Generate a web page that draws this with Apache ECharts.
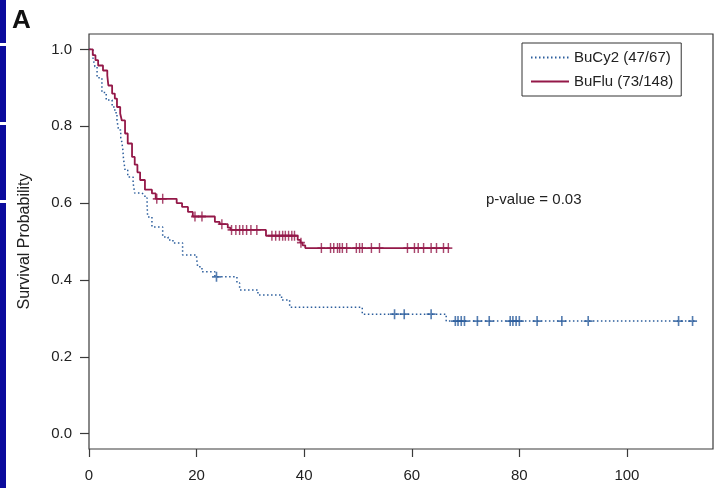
<!DOCTYPE html>
<html>
<head>
<meta charset="utf-8">
<script src="https://cdn.jsdelivr.net/npm/echarts@6/dist/echarts.min.js"></script>
<style>
html,body{margin:0;padding:0;background:#fff;}
#chart{width:725px;height:488px;}
</style>
</head>
<body>
<div id="chart"></div>
<script>
// ---- data ----
const seriesNames = ['BuCy2 (47/67)', 'BuFlu (73/148)'];
const xTickValues = [0, 20, 40, 60, 80, 100];
const yTickValues = [0, 0.2, 0.4, 0.6, 0.8, 1.0];

const blueEventTimes = [0.74,1.1,1.5,2.4,3.2,4.3,4.8,5.2,5.5,5.9,6.1,6.3,6.4,6.7,7.2,8.2,8.5,9.8,10.4,10.8,10.9,11.7,13.7,14.7,15.6,17.4,20.0,20.2,21.0,23.4,27.5,28.0,31.4,35.8,37.3,50.8,66.4];
const blueSurvival   = [0.978,0.955,0.926,0.888,0.868,0.85,0.835,0.816,0.79,0.77,0.759,0.738,0.717,0.686,0.668,0.652,0.626,0.621,0.613,0.595,0.564,0.538,0.512,0.504,0.496,0.465,0.457,0.434,0.421,0.408,0.392,0.374,0.361,0.348,0.329,0.311,0.293];
const blueEndTime = 113;
const blueCensorTimes = [23.7,56.8,58.6,63.6,68.1,68.6,69.2,69.8,72.2,74.4,78.3,78.8,79.4,80.0,83.3,87.9,92.8,109.6,112.2];

const redEventTimes = [0.7,1.2,1.7,2.6,3.4,3.6,4.3,4.8,5.2,5.8,6.1,6.7,7.2,8.0,8.5,9.0,9.5,10.4,11.7,12.4,16.3,17.3,18.4,19.3,23.4,24.3,25.8,26.3,32.9,38.8,39.3,39.7,40.2];
const redSurvival   = [0.985,0.972,0.958,0.945,0.932,0.906,0.885,0.872,0.85,0.833,0.815,0.781,0.755,0.72,0.70,0.68,0.66,0.635,0.625,0.611,0.60,0.59,0.577,0.565,0.551,0.545,0.536,0.53,0.515,0.504,0.497,0.49,0.483];
const redEndTime = 67;
const redCensorTimes = [12.6,13.7,19.7,21.0,24.7,26.5,27.3,28.0,28.6,29.3,30.1,31.2,34.0,34.7,35.4,36.0,36.5,37.1,37.7,38.2,39.4,43.2,44.9,45.5,46.2,46.6,47.1,47.9,49.7,50.3,50.8,52.5,54.0,59.2,60.5,61.2,62.2,63.6,64.6,65.9,66.8];

// ---- helpers ----
function stepData(times, surv, endT) {
  const d = [[0, 1]];
  times.forEach((t, i) => d.push([t, surv[i]]));
  d.push([endT, surv[surv.length - 1]]);
  return d;
}
function survAt(times, surv, t) {
  let s = 1;
  for (let i = 0; i < times.length; i++) { if (times[i] <= t) s = surv[i]; }
  return s;
}
function censorData(ct, times, surv) {
  return ct.map(t => [t, survAt(times, surv, t)]);
}

const BLUE = '#2b5d9c';
const RED = '#941848';
const FONT = 'Liberation Sans, Arial, Helvetica, sans-serif';
const PLUS = 'path://M4.1,0H5.9V4.1H10V5.9H5.9V10H4.1V5.9H0V4.1H4.1Z';

const chart = echarts.init(document.getElementById('chart'), null, {renderer: 'canvas'});
chart.setOption({
  animation: false,
  backgroundColor: '#ffffff',
  textStyle: {fontFamily: FONT},
  grid: {left: 89, right: 12, top: 34, bottom: 39, show: true, borderColor: '#3a3a3a', borderWidth: 1.2, backgroundColor: 'transparent'},
  xAxis: {
    type: 'value', min: 0, max: 116,
    axisLine: {show: false, onZero: false},
    splitLine: {show: false},
    axisTick: {show: true, inside: false, length: 8, lineStyle: {color: '#3a3a3a', width: 1.2}, customValues: xTickValues},
    axisLabel: {show: true, margin: 19, fontSize: 15, color: '#222', fontFamily: FONT, customValues: xTickValues, formatter: v => String(v)}
  },
  yAxis: {
    type: 'value', min: -0.04, max: 1.04,
    name: 'Survival Probability', nameLocation: 'middle', nameGap: 56,
    nameTextStyle: {fontSize: 16, color: '#222', fontFamily: FONT},
    axisLine: {show: false, onZero: false},
    splitLine: {show: false},
    axisTick: {show: true, inside: false, length: 9, lineStyle: {color: '#3a3a3a', width: 1.2}, customValues: yTickValues},
    axisLabel: {show: true, margin: 17, fontSize: 15, color: '#222', fontFamily: FONT, customValues: yTickValues, formatter: v => v.toFixed(1)}
  },
  legend: {
    data: seriesNames,
    orient: 'vertical', left: 522, top: 43,
    padding: [7, 8, 7, 8], itemGap: 9,
    itemWidth: 38, itemHeight: 14,
    borderColor: '#333', borderWidth: 1, borderRadius: 0,
    backgroundColor: '#fff',
    itemStyle: {opacity: 0},
    textStyle: {fontSize: 15, color: '#222', fontFamily: FONT}
  },
  graphic: [
    {type: 'rect', left: 0, top: 0, shape: {width: 6, height: 43}, style: {fill: '#0b0b9c'}},
    {type: 'rect', left: 0, top: 46, shape: {width: 6, height: 76}, style: {fill: '#0b0b9c'}},
    {type: 'rect', left: 0, top: 125, shape: {width: 6, height: 75}, style: {fill: '#0b0b9c'}},
    {type: 'rect', left: 0, top: 203, shape: {width: 6, height: 285}, style: {fill: '#0b0b9c'}},
    {type: 'text', left: 12, top: 8, style: {text: 'A', font: 'bold 26px ' + FONT, fill: '#111'}},
    {type: 'text', left: 486, top: 192, style: {text: 'p-value = 0.03', font: '15px ' + FONT, fill: '#222'}}
  ],
  series: [
    {
      name: seriesNames[0], type: 'line', step: 'end', symbol: 'none',
      data: stepData(blueEventTimes, blueSurvival, blueEndTime),
      lineStyle: {color: BLUE, width: 1.5, type: [1.5, 2.5]},
      itemStyle: {color: BLUE}, z: 3
    },
    {
      name: seriesNames[1], type: 'line', step: 'end', symbol: 'none',
      data: stepData(redEventTimes, redSurvival, redEndTime),
      lineStyle: {color: RED, width: 1.8},
      itemStyle: {color: RED}, z: 4
    },
    {
      name: 'BuCy2 censored', type: 'scatter', symbol: PLUS, symbolSize: [9, 10],
      data: censorData(blueCensorTimes, blueEventTimes, blueSurvival),
      itemStyle: {color: BLUE}, z: 5
    },
    {
      name: 'BuFlu censored', type: 'scatter', symbol: PLUS, symbolSize: [8, 10],
      data: censorData(redCensorTimes, redEventTimes, redSurvival),
      itemStyle: {color: RED}, z: 6
    }
  ]
});
</script>
</body>
</html>
